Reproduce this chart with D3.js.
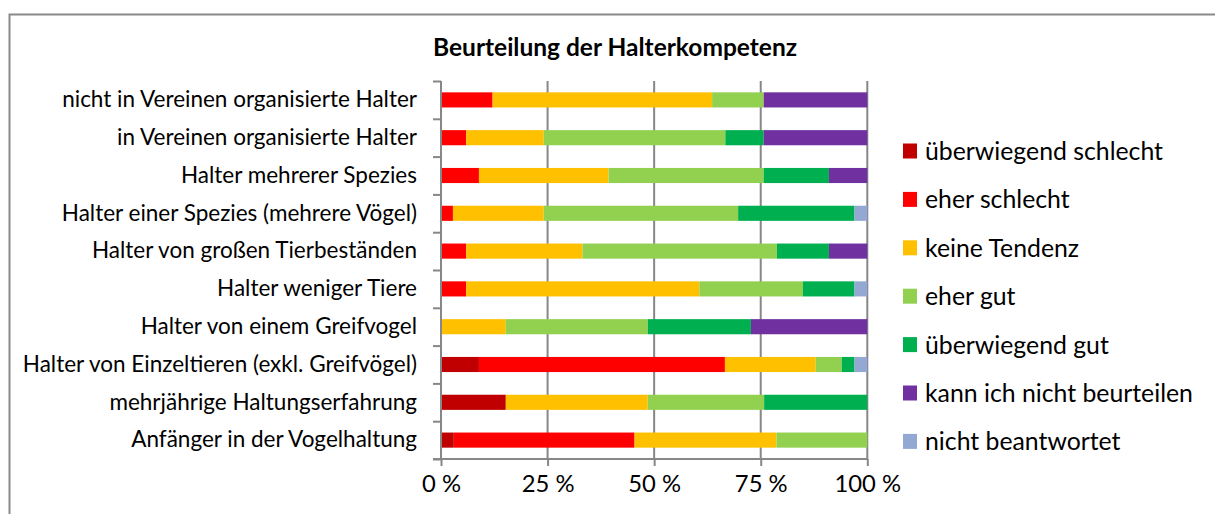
<!DOCTYPE html>
<html>
<head>
<meta charset="utf-8">
<script src="https://cdn.jsdelivr.net/npm/d3@7"></script>
<style>
  body { margin: 0; background: #fff; }
  svg { display: block; font-family: Lato, "Open Sans", sans-serif; }
</style>
</head>
<body>
<script>
// categories top to bottom
const categories = [
  "nicht in Vereinen organisierte Halter",
  "in Vereinen organisierte Halter",
  "Halter mehrerer Spezies",
  "Halter einer Spezies (mehrere Vögel)",
  "Halter von großen Tierbeständen",
  "Halter weniger Tiere",
  "Halter von einem Greifvogel",
  "Halter von Einzeltieren (exkl. Greifvögel)",
  "mehrjährige Haltungserfahrung",
  "Anfänger in der Vogelhaltung"
];

const seriesNames = [
  "überwiegend schlecht",
  "eher schlecht",
  "keine Tendenz",
  "eher gut",
  "überwiegend gut",
  "kann ich nicht beurteilen",
  "nicht beantwortet"
];
const seriesColors = ["#C00000", "#FF0000", "#FFC000", "#92D050", "#00B050", "#7030A0", "#93A9D3"];

// percent per series, in category order
const ueberwiegendSchlecht = [0, 0, 0, 0, 0, 0, 0, 8.9, 15.2, 3.0];
const eherSchlecht         = [12.1, 5.9, 8.9, 2.8, 5.9, 5.9, 0, 57.7, 0, 42.4];
const keineTendenz         = [51.5, 18.2, 30.4, 21.3, 27.3, 54.7, 15.2, 21.3, 33.3, 33.3];
const eherGut              = [12.1, 42.6, 36.4, 45.6, 45.6, 24.3, 33.3, 6.1, 27.3, 21.3];
const ueberwiegendGut      = [0, 9.0, 15.3, 27.3, 12.2, 12.1, 24.2, 3.0, 24.2, 0];
const nichtBeurteilbar     = [24.3, 24.3, 9.0, 0, 9.0, 0, 27.3, 0, 0, 0];
const nichtBeantwortet     = [0, 0, 0, 3.0, 0, 3.0, 0, 3.0, 0, 0];

const xTicks = [0, 25, 50, 75, 100];

const seriesValues = [ueberwiegendSchlecht, eherSchlecht, keineTendenz, eherGut,
  ueberwiegendGut, nichtBeurteilbar, nichtBeantwortet];

const table = categories.map((c, i) => {
  const row = { cat: c };
  seriesNames.forEach((s, j) => row[s] = seriesValues[j][i]);
  return row;
});

const W = 1215, H = 514;
const plot = { left: 441, right: 867.3, top: 81, bottom: 459 };
const gridColor = "#878787";

const svg = d3.select("body").append("svg")
    .attr("width", W)
    .attr("height", H);

svg.append("rect").attr("width", W).attr("height", H).attr("fill", "#fff");

// chart frame (runs off the right and bottom edges)
svg.append("rect")
    .attr("x", 9.5).attr("y", 14.5)
    .attr("width", 1300).attr("height", 600)
    .attr("fill", "none")
    .attr("stroke", "#898989")
    .attr("stroke-width", 2);

svg.append("text")
    .attr("x", 615).attr("y", 56)
    .attr("text-anchor", "middle")
    .style("font-size", "24.5px")
    .style("font-weight", "bold")
    .text("Beurteilung der Halterkompetenz");

const x = d3.scaleLinear().domain([0, 100]).range([plot.left, plot.right]);
const y = d3.scaleBand().domain(categories)
    .range([plot.top, plot.bottom])
    .paddingInner(0.6).paddingOuter(0.3);

// vertical gridlines
svg.append("g")
    .selectAll("line")
    .data(xTicks.slice(1))
    .join("line")
    .attr("x1", d => x(d)).attr("x2", d => x(d))
    .attr("y1", plot.top).attr("y2", plot.bottom)
    .attr("stroke", gridColor)
    .attr("stroke-width", 2);

// stacked bars
const stack = d3.stack().keys(seriesNames)(table);

svg.append("g")
  .selectAll("g")
  .data(stack)
  .join("g")
    .attr("fill", (d, i) => seriesColors[i])
  .selectAll("rect")
  .data(d => d)
  .join("rect")
    .attr("x", d => x(d[0]))
    .attr("y", d => y(d.data.cat))
    .attr("width", d => x(d[1]) - x(d[0]))
    .attr("height", y.bandwidth());

// x axis
const xAxis = svg.append("g")
    .attr("transform", `translate(0,${plot.bottom})`)
    .call(d3.axisBottom(x).tickValues(xTicks).tickSize(7).tickPadding(9)
      .tickFormat(d => d + " %"));
xAxis.select(".domain").remove();
xAxis.selectAll("line").attr("stroke", gridColor).attr("stroke-width", 2);
xAxis.selectAll("text")
    .attr("fill", "#000")
    .style("font-size", "23.8px")
    .style("font-family", "Lato, sans-serif");
xAxis.append("line")
    .attr("x1", plot.left - 8).attr("x2", plot.right)
    .attr("stroke", gridColor).attr("stroke-width", 2);

// y axis: boundary ticks between categories
const yEdges = d3.scaleLinear().domain([0, categories.length]).range([plot.top, plot.bottom]);
const yTickAxis = svg.append("g")
    .attr("transform", `translate(${plot.left},0)`)
    .call(d3.axisLeft(yEdges).ticks(categories.length).tickSize(8).tickFormat(""));
yTickAxis.select(".domain").remove();
yTickAxis.selectAll("line").attr("stroke", gridColor).attr("stroke-width", 2);
yTickAxis.append("line")
    .attr("y1", plot.top).attr("y2", plot.bottom)
    .attr("stroke", gridColor).attr("stroke-width", 2);

// y axis labels
const yLabels = svg.append("g")
    .attr("transform", `translate(${plot.left},0)`)
    .call(d3.axisLeft(y).tickSize(0).tickPadding(24));
yLabels.select(".domain").remove();
yLabels.selectAll("text")
    .attr("fill", "#000")
    .style("font-size", "22.5px")
    .style("font-family", "Lato, sans-serif");

// legend
const legend = svg.append("g").attr("transform", "translate(903,151)");
const legendItem = legend.selectAll("g")
    .data(seriesNames)
    .join("g")
    .attr("transform", (d, i) => `translate(0,${i * 48.4})`);
legendItem.append("rect")
    .attr("x", 0).attr("y", -7.5)
    .attr("width", 14).attr("height", 15)
    .attr("fill", (d, i) => seriesColors[i]);
legendItem.append("text")
    .attr("x", 22).attr("dy", "0.36em")
    .style("font-size", "24.8px")
    .text(d => d);
</script>
</body>
</html>
